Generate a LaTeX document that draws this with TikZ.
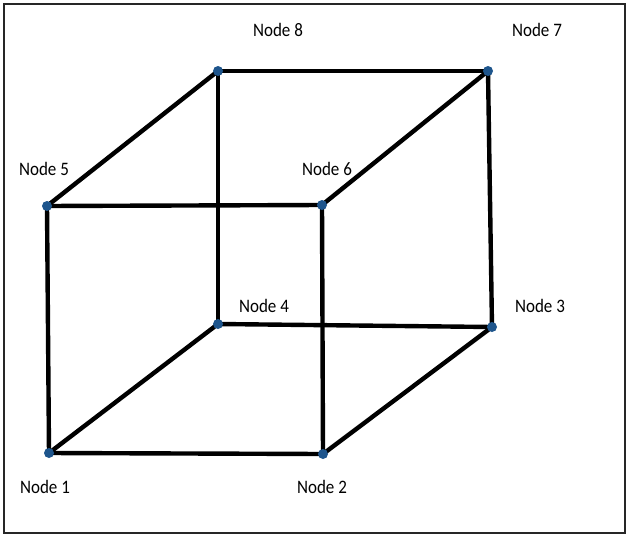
\documentclass[tikz,border=0pt]{standalone}
\usepackage{fontspec}
\setmainfont{Carlito}
\definecolor{dotblue}{RGB}{30,85,140}
\begin{document}
\begin{tikzpicture}[x=1pt,y=-1pt,
  vtx/.style={circle,fill=dotblue,inner sep=0pt,minimum size=10pt},
  lbl/.style={font=\fontsize{17}{19}\selectfont,inner sep=0pt,yscale=1.12,transform shape},
  edge/.style={line width=4.4pt,black}]
\useasboundingbox (0,0) rectangle (629,538);
\draw[line width=2pt,black!85] (4,4) rectangle (625,533);
\coordinate (n1) at (49,453);
\coordinate (n2) at (323,454);
\coordinate (n3) at (492,327);
\coordinate (n4) at (218,324);
\coordinate (n5) at (47,206);
\coordinate (n6) at (322,205);
\coordinate (n7) at (488,71);
\coordinate (n8) at (218,71);
\draw[edge] (n1) -- (n2);
\draw[edge] (n1) -- (n5);
\draw[edge] (n1) -- (n4);
\draw[edge] (n2) -- (n6);
\draw[edge] (n2) -- (n3);
\draw[edge] (n3) -- (n4);
\draw[edge] (n3) -- (n7);
\draw[edge] (n4) -- (n8);
\draw[edge] (n5) -- (n6);
\draw[edge] (n5) -- (n8);
\draw[edge] (n6) -- (n7);
\draw[edge] (n7) -- (n8);
\foreach \n in {1,...,8} \node[vtx] (d\n) at (n\n) {};
\node[lbl] (l1) at (45,487) {Node 1};
\node[lbl] (l2) at (322,487) {Node 2};
\node[lbl] (l3) at (540,306) {Node 3};
\node[lbl] (l4) at (264,306) {Node 4};
\node[lbl] (l5) at (44,169) {Node 5};
\node[lbl] (l6) at (327,169) {Node 6};
\node[lbl] (l7) at (537,30) {Node 7};
\node[lbl] (l8) at (278,30) {Node 8};
\end{tikzpicture}
\end{document}
